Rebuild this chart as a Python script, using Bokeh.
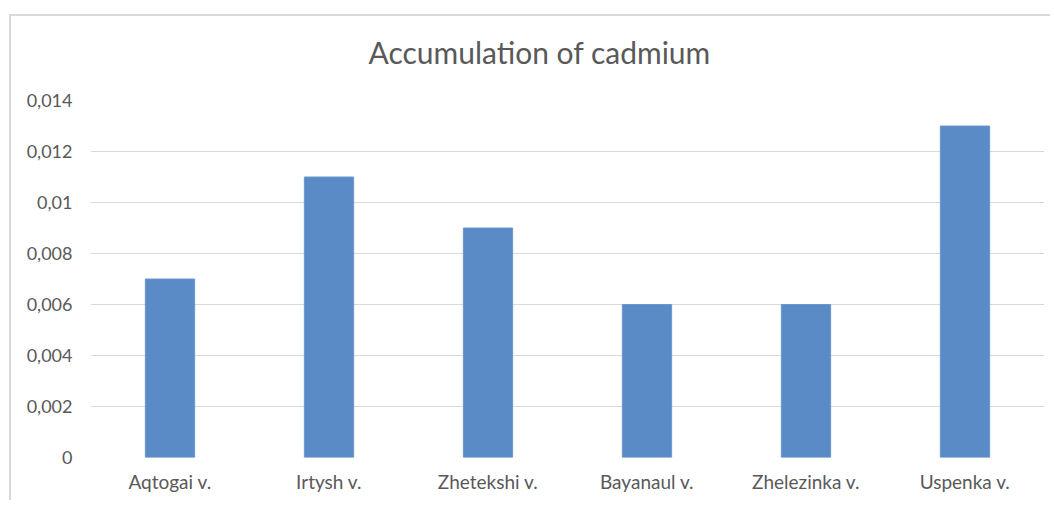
from bokeh.plotting import figure
from bokeh.models import ColumnDataSource, FixedTicker, CustomJSTickFormatter, Range1d
from bokeh.embed import file_html
from bokeh.resources import INLINE

categories = ["Aqtogai v.", "Irtysh v.", "Zhetekshi v.", "Bayanaul v.", "Zhelezinka v.", "Uspenka v."]
values = [0.007, 0.011, 0.009, 0.006, 0.006, 0.013]
y_ticks = [0, 0.002, 0.004, 0.006, 0.008, 0.010, 0.012, 0.014]
title_text = "Accumulation of cadmium"

FONT = "Lato"
GRAY = "#595959"
BORDER = "#d9d9d9"

src = ColumnDataSource(dict(cat=categories, val=values))

p = figure(x_range=categories, y_range=Range1d(0, 0.014),
           width=1050, height=500, output_backend="svg", toolbar_location=None,
           min_border_left=90, min_border_right=6, min_border_top=100, min_border_bottom=43)
p.border_fill_color = None
p.background_fill_color = None
# chart-area border (left and top edges only are visible in the reference crop)
p.styles = {
    "background-color": "white",
    "background-image": f"linear-gradient({BORDER}, {BORDER}), linear-gradient({BORDER}, {BORDER})",
    "background-size": "2px 100%, 100% 2px",
    "background-position": "9px 14px, 9px 14px",
    "background-repeat": "no-repeat",
}

p.vbar(x="cat", top="val", width=0.31, source=src, fill_color="#5b8bc6", line_color="#6a97cc", line_width=1)

p.title.text = title_text
p.title.align = "left"
p.title.offset = 278
p.title.standoff = 61
p.title.text_font = FONT
p.title.text_font_size = "30px"
p.title.text_font_style = "normal"
p.title.text_color = GRAY

p.yaxis.ticker = FixedTicker(ticks=y_ticks)
p.yaxis.formatter = CustomJSTickFormatter(code="return parseFloat(tick.toFixed(3)).toString().replace('.', ',');")
for ax in (p.xaxis, p.yaxis):
    ax.axis_line_color = None
    ax.major_tick_line_color = None
    ax.minor_tick_line_color = None
    ax.major_tick_out = 0
    ax.major_tick_in = 0
    ax.major_label_text_font = FONT
    ax.major_label_text_color = GRAY
p.yaxis.major_label_text_font_size = "18px"
p.xaxis.major_label_text_font_size = "19px"
p.yaxis.major_label_standoff = 18
p.xaxis.major_label_standoff = 12

p.xgrid.grid_line_color = None
p.ygrid.grid_line_color = "#d9d9d9"
p.ygrid.grid_line_width = 1
p.outline_line_color = None

open("out.html", "w").write(file_html(p, INLINE))
